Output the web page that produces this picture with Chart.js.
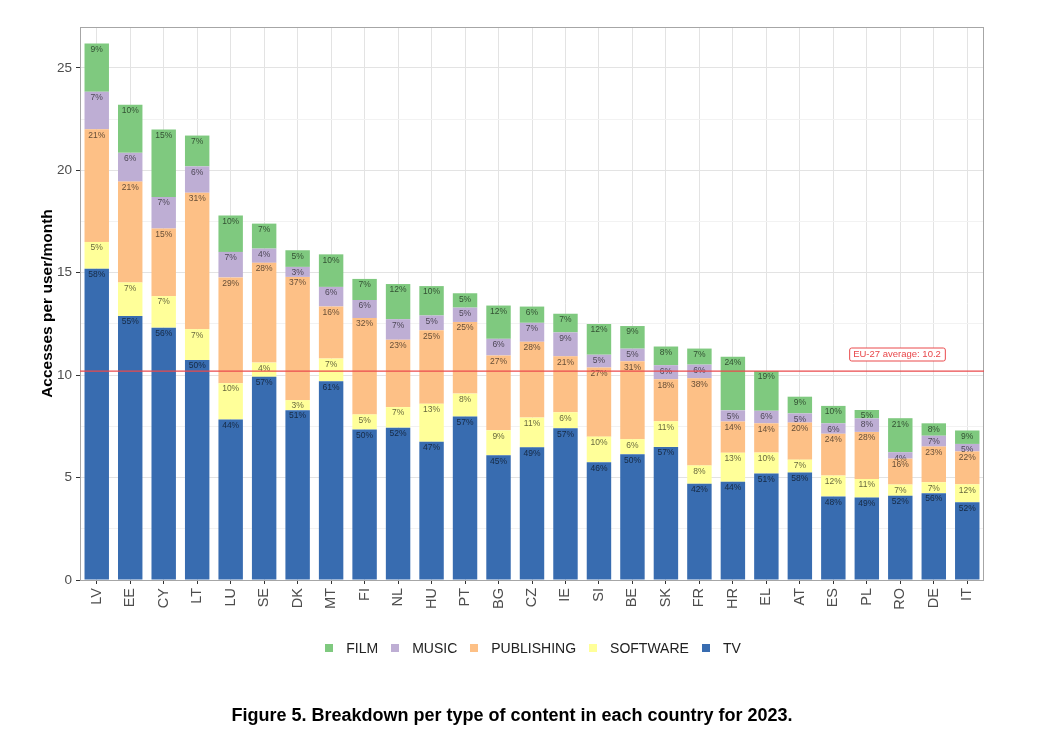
<!DOCTYPE html>
<html lang="en">
<head>
    <meta charset="UTF-8" />
    <title>Breakdown per type of content</title>
    <script src="https://cdn.jsdelivr.net/npm/chart.js"></script>
    <style>
        body {
            margin: 0;
            background: #fff;
            font-family: 'Liberation Sans', Arial, sans-serif;
        }
        #wrap {
            width: 1039px;
            height: 732px;
            position: relative;
        }
        #legend {
            position: absolute;
            left: 0;
            width: 1066px;
            top: 640px;
            display: flex;
            justify-content: center;
            font-size: 14px;
            color: #222;
        }
        #legend .item {
            display: flex;
            align-items: center;
            margin: 0 6.5px;
        }
        #legend .box {
            width: 8px;
            height: 8px;
            margin-right: 13px;
        }
        #caption {
            position: absolute;
            left: 0;
            width: 1024px;
            top: 705px;
            text-align: center;
            font-size: 18px;
            font-weight: bold;
            color: #000;
        }
    </style>
</head>
<body>

<div id="wrap">
    <canvas id="chart"></canvas>
    <div id="legend"></div>
    <div id="caption">Figure 5. Breakdown per type of content in each country for 2023.</div>
</div>

<script>
    const countries = ['LV','EE','CY','LT','LU','SE','DK','MT','FI','NL','HU','PT','BG','CZ','IE','SI','BE','SK','FR','HR','EL','AT','ES','PL','RO','DE','IT'];
    // total accesses per user/month (bar height)
    const totals = [26.2, 23.2, 22.0, 21.7, 17.8, 17.4, 16.1, 15.9, 14.7, 14.45, 14.35, 14.0, 13.4, 13.35, 13.0, 12.5, 12.4, 11.4, 11.3, 10.9, 10.2, 8.95, 8.5, 8.3, 7.9, 7.65, 7.3];
    // share of each content type, in % (as printed on the bars)
    const tvPct         = [58,55,56,50,44,57,51,61,50,52,47,57,45,49,57,46,50,57,42,44,51,58,48,49,52,56,52];
    const softwarePct   = [5,7,7,7,10,4,3,7,5,7,13,8,9,11,6,10,6,11,8,13,10,7,12,11,7,7,12];
    const publishingPct = [21,21,15,31,29,28,37,16,32,23,25,25,27,28,21,27,31,18,38,14,14,20,24,28,16,23,22];
    const musicPct      = [7,6,7,6,7,4,3,6,6,7,5,5,6,7,9,5,5,6,6,5,6,5,6,8,4,7,5];
    const filmPct       = [9,10,15,7,10,7,5,10,7,12,10,5,12,6,7,12,9,8,7,24,19,9,10,5,21,8,9];
    const euAverage = 10.2;
    const yTicks = [0, 5, 10, 15, 20, 25];

    const types = [
        { label: 'TV', pct: tvPct, color: '#386cb0' },
        { label: 'SOFTWARE', pct: softwarePct, color: '#ffff99' },
        { label: 'PUBLISHING', pct: publishingPct, color: '#fdc086' },
        { label: 'MUSIC', pct: musicPct, color: '#beaed4' },
        { label: 'FILM', pct: filmPct, color: '#7fc97f' }
    ];

    const pctSums = countries.map((c, j) => types.reduce((s, t) => s + t.pct[j], 0));

    const datasets = types.map(t => ({
        label: t.label,
        data: totals.map((tot, j) => tot * t.pct[j] / pctSums[j]),
        backgroundColor: t.color,
        borderWidth: 0,
        categoryPercentage: 1,
        barPercentage: 0.73
    }));

    // legend, FILM first like the original
    const legendEl = document.getElementById('legend');
    types.slice().reverse().forEach(t => {
        const item = document.createElement('div');
        item.className = 'item';
        item.innerHTML = '<span class="box" style="background:' + t.color + '"></span>' + t.label;
        legendEl.appendChild(item);
    });

    const font = "'Liberation Sans', Arial, sans-serif";

    const segmentLabels = {
        id: 'segmentLabels',
        afterDatasetsDraw(chart) {
            const ctx = chart.ctx;
            ctx.save();
            ctx.font = '8.5px ' + font;
            ctx.fillStyle = 'rgba(0,0,0,0.62)';
            ctx.textAlign = 'center';
            ctx.textBaseline = 'middle';
            chart.data.datasets.forEach((ds, i) => {
                const meta = chart.getDatasetMeta(i);
                meta.data.forEach((el, j) => {
                    ctx.fillText(types[i].pct[j] + '%', el.x, el.y + 6);
                });
            });
            ctx.restore();
        }
    };

    const averageLine = {
        id: 'averageLine',
        afterDatasetsDraw(chart) {
            const ctx = chart.ctx;
            const area = chart.chartArea;
            const y = chart.scales.y.getPixelForValue(euAverage);

            // panel border
            ctx.save();
            ctx.strokeStyle = '#a6a6a6';
            ctx.lineWidth = 1;
            ctx.strokeRect(area.left + 0.5, area.top + 0.5, area.right - area.left - 1, area.bottom - area.top);

            ctx.strokeStyle = '#ea4a4d';
            ctx.lineWidth = 1.3;
            ctx.beginPath();
            ctx.moveTo(area.left, y);
            ctx.lineTo(area.right, y);
            ctx.stroke();

            const text = 'EU-27 average: ' + euAverage;
            ctx.font = '9.5px ' + font;
            ctx.lineWidth = 1;
            const w = ctx.measureText(text).width + 8;
            const cx = area.right - 87;
            const cy = Math.round(y) - 17;
            ctx.fillStyle = '#fff';
            ctx.beginPath();
            ctx.roundRect(cx - w / 2 + 0.5, cy - 6.5 + 0.5, w, 13, 2);
            ctx.fill();
            ctx.stroke();
            ctx.fillStyle = '#e8474a';
            ctx.textAlign = 'center';
            ctx.textBaseline = 'middle';
            ctx.fillText(text, cx, cy + 0.5);
            ctx.restore();
        }
    };

    new Chart(document.getElementById('chart'), {
        type: 'bar',
        data: { labels: countries, datasets: datasets },
        plugins: [segmentLabels, averageLine],
        options: {
            responsive: true,
            maintainAspectRatio: false,
            animation: false,
            layout: { padding: { top: 27, right: 55, left: 0, bottom: 100 } },
            plugins: {
                tooltip: { enabled: false },
                legend: { display: false }
            },
            scales: {
                x: {
                    stacked: true,
                    afterFit: s => { s.height = 52; },
                    grid: {
                        offset: false,
                        color: '#e3e3e3',
                        tickColor: '#333',
                        tickLength: 4
                    },
                    border: { display: false },
                    ticks: {
                        minRotation: 90,
                        maxRotation: 90,
                        padding: 4,
                        color: '#4d4d4d',
                        font: { family: font, size: 14.5 }
                    }
                },
                y: {
                    stacked: true,
                    min: 0,
                    max: 27,
                    afterFit: s => { s.width = 80; },
                    border: { display: false },
                    grid: {
                        color: c => yTicks.includes(c.tick.value) ? '#e3e3e3' : '#f2f2f2',
                        tickColor: c => yTicks.includes(c.tick.value) ? '#333' : 'rgba(0,0,0,0)',
                        tickLength: 4
                    },
                    ticks: {
                        stepSize: 2.5,
                        includeBounds: false,
                        padding: 4,
                        color: '#4d4d4d',
                        font: { family: font, size: 13.5 },
                        callback: v => yTicks.includes(v) ? v : ''
                    },
                    title: {
                        display: true,
                        text: 'Accesses per user/month',
                        color: '#000',
                        font: { family: font, size: 15.5, weight: 'bold' },
                        padding: { top: 38, bottom: 0 }
                    }
                }
            }
        }
    });
</script>

</body>
</html>
